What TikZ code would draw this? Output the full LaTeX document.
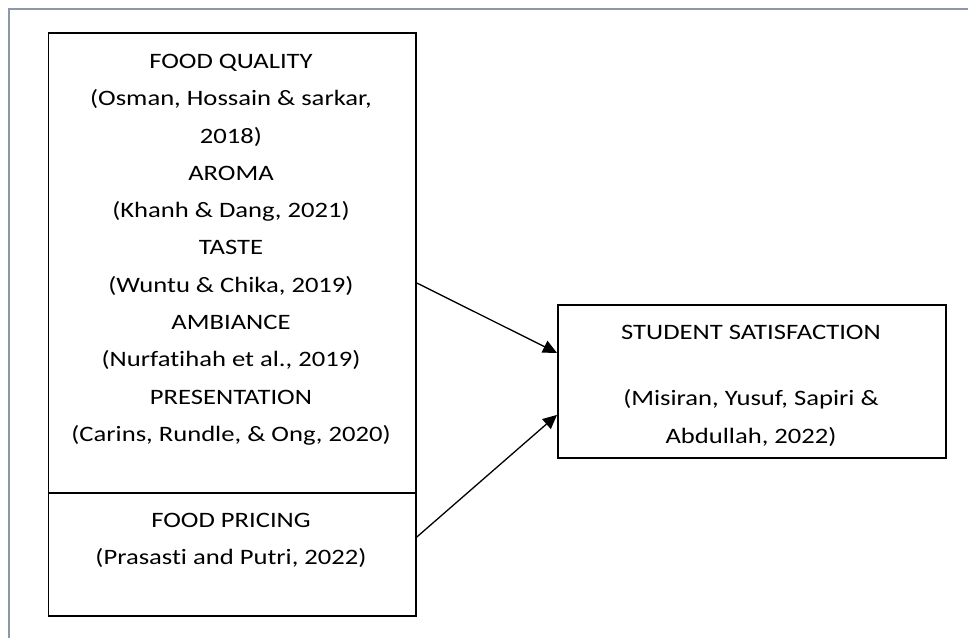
\documentclass[tikz,border=0pt]{standalone}
\usepackage{fontspec}
\setmainfont{Carlito}[FakeStretch=1.21,Ligatures={NoCommon}]
\usetikzlibrary{positioning,arrows.meta,calc}
\definecolor{framegray}{RGB}{140,152,170}
\begin{document}
\begin{tikzpicture}[x=1pt,y=-1pt,
    blk/.style={draw,line width=1.8pt,inner sep=0pt,anchor=north west},
    txt/.style={align=center,inner sep=0pt,anchor=north,font=\fontsize{22}{37.3}\selectfont},
    lnk/.style={line width=1.3pt,-{Triangle[length=14pt,width=13pt]}},
]
\useasboundingbox (0,0) rectangle (968,638);
\draw[framegray,line width=2pt] (9,638) -- (9,9) -- (968,9);
\node[blk,minimum width=367.5pt,minimum height=460pt] (quality) at (47.5,32) {};
\node[blk,minimum width=367.5pt,minimum height=123pt] (pricing) at (47.5,492) {};
\node[blk,minimum width=388pt,minimum height=153pt] (satis) at (557,304) {};
\node[txt] (qualitytxt) at (231,54) {FOOD QUALITY\\(Osman, Hossain \& sarkar,\\2018)\\AROMA\\(Khanh \& Dang, 2021)\\TASTE\\(Wuntu \& Chika, 2019)\\AMBIANCE\\(Nurfatihah et al., 2019)\\PRESENTATION\\(Carins, Rundle, \& Ong, 2020)};
\node[txt] (pricingtxt) at (231,513) {FOOD PRICING\\(Prasasti and Putri, 2022)};
\node[txt] (satistxt) at (751,325) {STUDENT SATISFACTION\\[29pt](Misiran, Yusuf, Sapiri \&\\Abdullah, 2022)};
\draw[lnk] ([yshift=-251pt]quality.north east) -- ([yshift=28.5pt]satis.west);
\draw[lnk] ([yshift=-45pt]pricing.north east) -- ([yshift=-33.5pt]satis.west);
\end{tikzpicture}
\end{document}
